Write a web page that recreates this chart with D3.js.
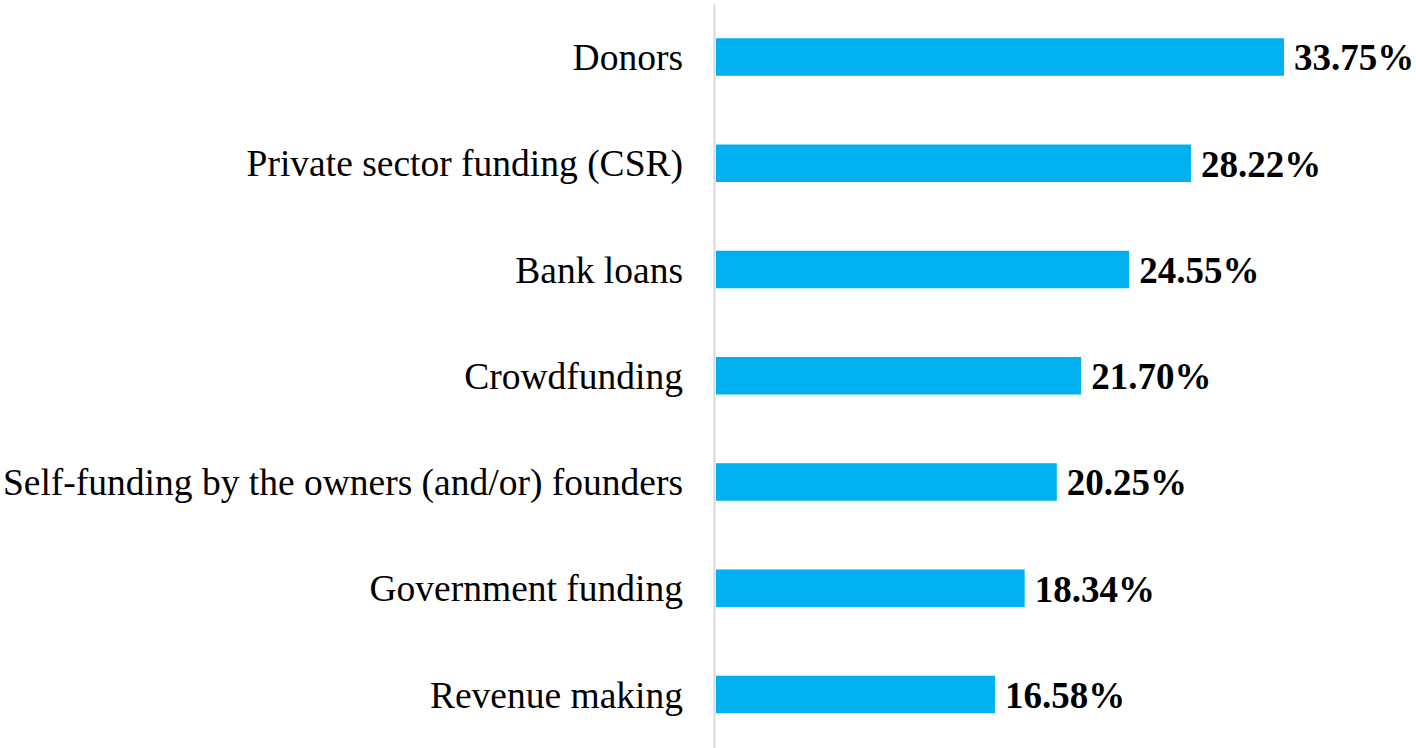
<!DOCTYPE html>
<html>
<head>
<meta charset="utf-8">
<script src="https://cdn.jsdelivr.net/npm/d3@7"></script>
<style>
  html, body { margin: 0; padding: 0; background: #ffffff; }
  svg { display: block; }
</style>
</head>
<body>
<svg id="chart" width="1416" height="748"></svg>
<script>
const categories = [
  "Donors",
  "Private sector funding (CSR)",
  "Bank loans",
  "Crowdfunding",
  "Self-funding by the owners (and/or) founders",
  "Government funding",
  "Revenue making"
];
const values = [33.75, 28.22, 24.55, 21.70, 20.25, 18.34, 16.58];
const valueLabels = ["33.75%", "28.22%", "24.55%", "21.70%", "20.25%", "18.34%", "16.58%"];

const svg = d3.select("#chart");
const axisX = 714;
const x = d3.scaleLinear().domain([0, 40]).range([716, 716 + 16.83 * 40]);
const y = d3.scaleBand().domain(categories).range([3.9, 747.6])
  .paddingInner(0.647).paddingOuter(0.3235);

const data = categories.map((c, i) => ({ c, v: values[i], l: valueLabels[i] }));

svg.selectAll("rect.bar").data(data).enter().append("rect")
  .attr("class", "bar")
  .attr("x", x(0))
  .attr("y", d => y(d.c))
  .attr("width", d => x(d.v) - x(0))
  .attr("height", y.bandwidth())
  .attr("fill", "#00B0F0");

svg.selectAll("text.val").data(data).enter().append("text")
  .attr("class", "val")
  .attr("x", d => x(d.v) + 10)
  .attr("y", d => y(d.c) + y.bandwidth() / 2)
  .attr("dy", "0.36em")
  .attr("font-family", "'Liberation Serif', 'Times New Roman', serif")
  .attr("font-weight", "bold")
  .attr("font-size", 37)
  .attr("fill", "#000")
  .text(d => d.l);

const axis = d3.axisLeft(y).tickSize(0).tickPadding(31);
const g = svg.append("g").attr("transform", `translate(${axisX},0)`).call(axis);
g.select(".domain").attr("stroke", "#D9D9D9").attr("stroke-width", 2);
g.selectAll(".tick text")
  .attr("font-family", "'Liberation Serif', 'Times New Roman', serif")
  .attr("font-size", 37.5)
  .attr("fill", "#000")
  .attr("dy", "0.35em");
</script>
</body>
</html>
